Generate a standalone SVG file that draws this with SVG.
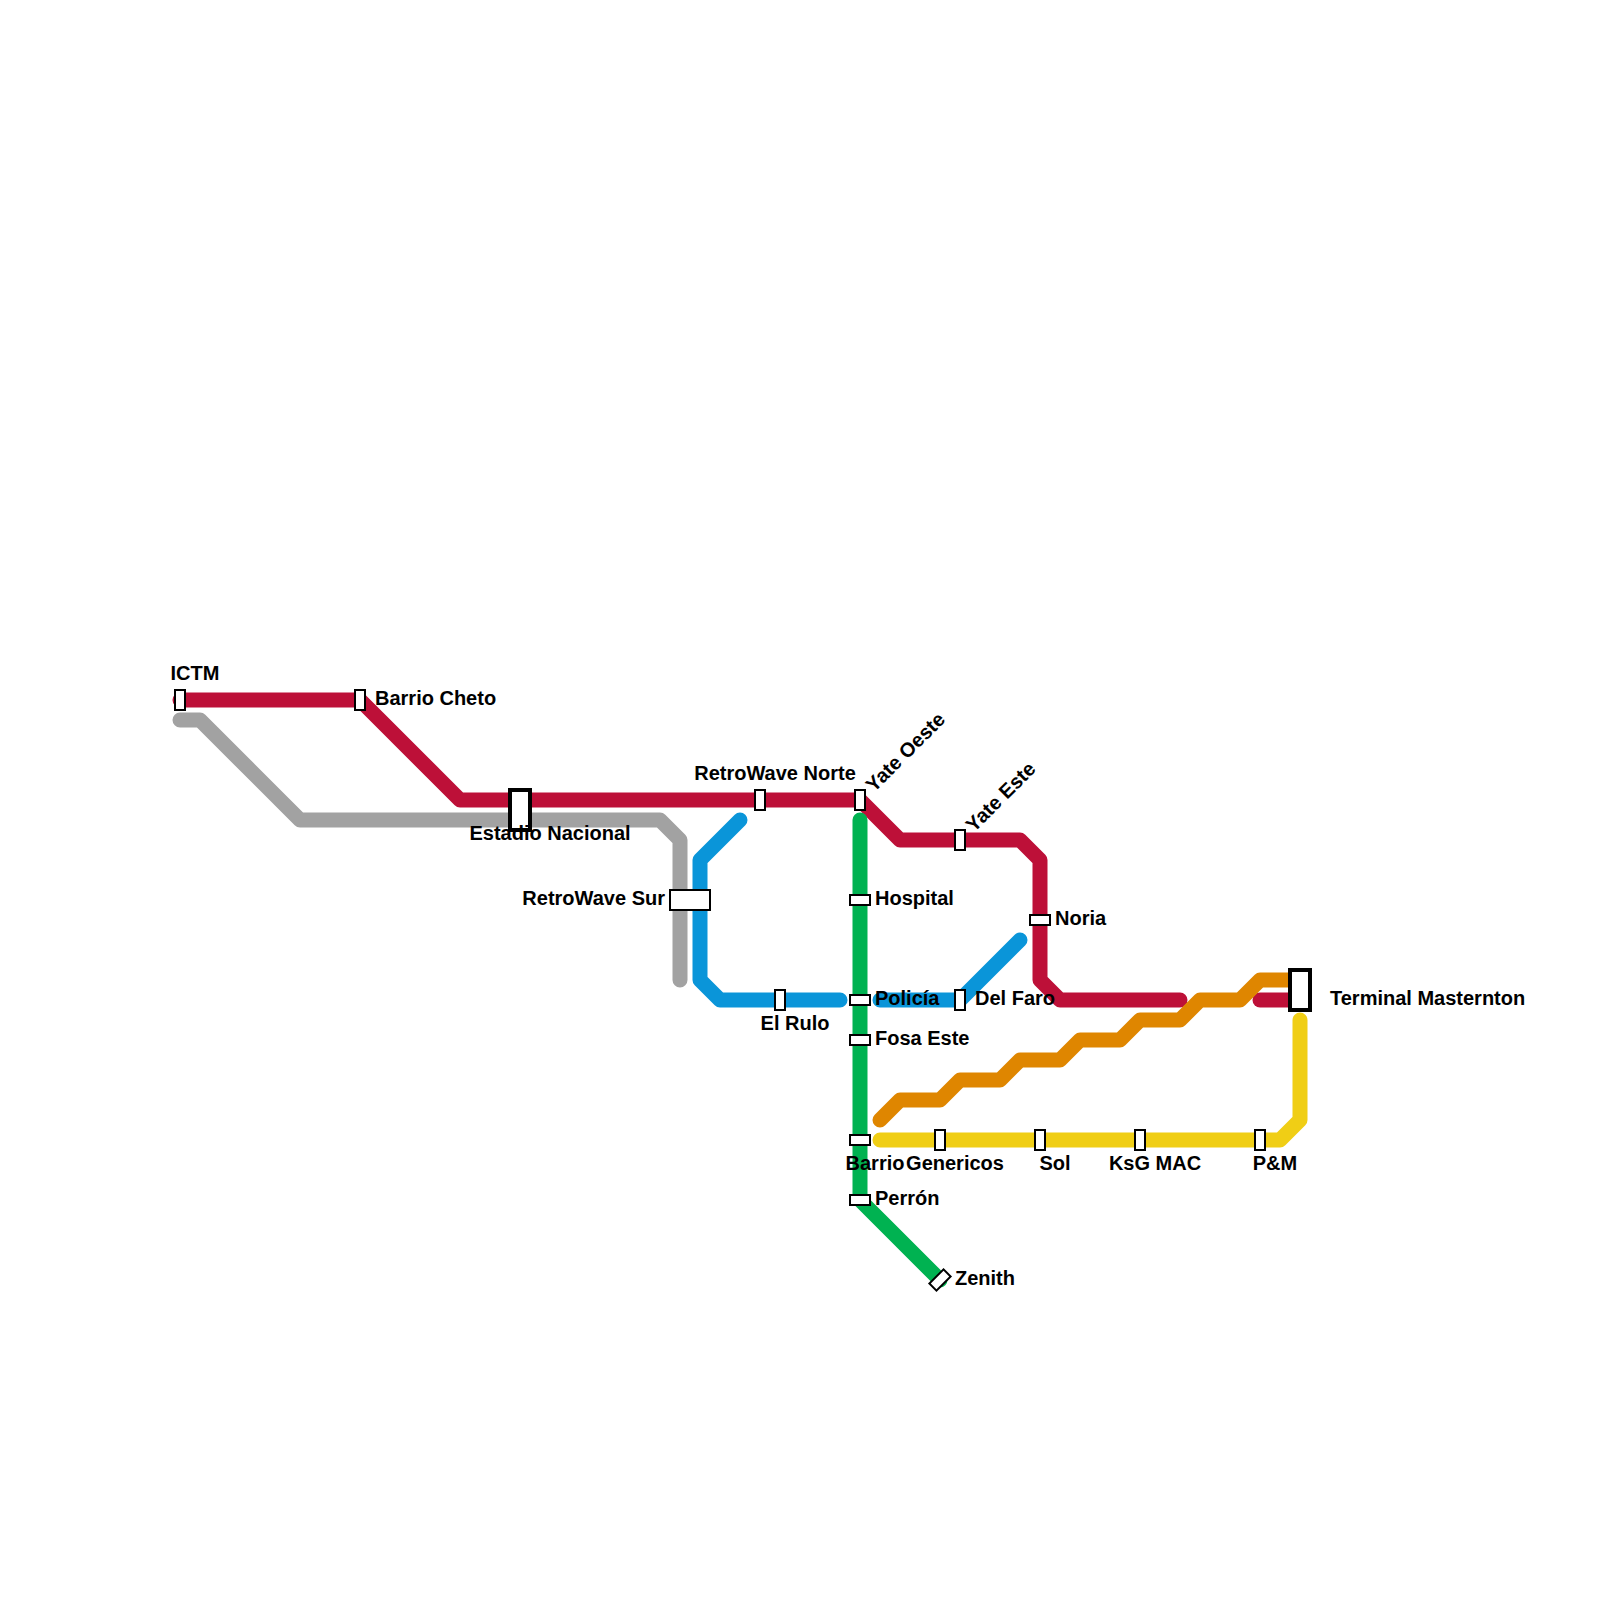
<svg xmlns="http://www.w3.org/2000/svg" width="1600" height="1600" viewBox="0 0 1600 1600">
<style>
.l{fill:none;stroke-width:15;stroke-linecap:round;stroke-linejoin:round}
.s{fill:#fff;stroke:#000;stroke-width:2}
.t{fill:#fff;stroke:#000;stroke-width:4}
text{font-family:"Liberation Sans",Arial,sans-serif;font-size:20px;font-weight:700;fill:#000}
.m{text-anchor:middle}
.e{text-anchor:end}
</style>
<rect width="1600" height="1600" fill="#fff"/>
<g id="connectors">
<path class="l" stroke="#bd1038" d="M180 700H360L460 800H860L900 840H1020L1040 860V980L1060 1000H1180"/>
<path class="l" stroke="#bd1038" d="M1260 1000H1300"/>
<path class="l" stroke="#a2a2a2" d="M180 720H200L300 820H660L680 840V980"/>
<path class="l" stroke="#0a95d9" d="M740 820L700 860V980L720 1000H840"/>
<path class="l" stroke="#0a95d9" d="M880 1000H960L1020 940"/>
<path class="l" stroke="#00b251" d="M860 820V1200L940 1280"/>
<path class="l" stroke="#df8600" d="M880 1120L900 1100H940L960 1080H1000L1020 1060H1060L1080 1040H1120L1140 1020H1180L1200 1000H1240L1260 980H1300"/>
<path class="l" stroke="#f0ce15" d="M880 1140H1280L1300 1120V1020"/>
</g>
<g id="st-ictm"><rect class="s" x="175" y="690" width="10" height="20"/><text class="m" x="195" y="680">ICTM</text></g>
<g id="st-barrio-cheto"><rect class="s" x="355" y="690" width="10" height="20"/><text x="375" y="705">Barrio Cheto</text></g>
<g id="st-estadio-nacional"><rect class="t" x="510" y="790" width="20" height="40"/><text class="m" x="550" y="840">Estadio Nacional</text></g>
<g id="st-retrowave-norte"><rect class="s" x="755" y="790" width="10" height="20"/><text class="m" x="775" y="780">RetroWave Norte</text></g>
<g id="st-yate-oeste"><rect class="s" x="855" y="790" width="10" height="20"/><text transform="translate(874 793) rotate(-45)">Yate Oeste</text></g>
<g id="st-yate-este"><rect class="s" x="955" y="830" width="10" height="20"/><text transform="translate(974 833) rotate(-45)">Yate Este</text></g>
<g id="st-noria"><rect class="s" x="1030" y="915" width="20" height="10"/><text x="1055" y="925">Noria</text></g>
<g id="st-retrowave-sur"><rect class="s" x="670" y="890" width="40" height="20"/><text class="e" x="665" y="905">RetroWave Sur</text></g>
<g id="st-hospital"><rect class="s" x="850" y="895" width="20" height="10"/><text x="875" y="905">Hospital</text></g>
<g id="st-policia"><rect class="s" x="850" y="995" width="20" height="10"/><text x="875" y="1005">Policía</text></g>
<g id="st-fosa-este"><rect class="s" x="850" y="1035" width="20" height="10"/><text x="875" y="1045">Fosa Este</text></g>
<g id="st-el-rulo"><rect class="s" x="775" y="990" width="10" height="20"/><text class="m" x="795" y="1030">El Rulo</text></g>
<g id="st-del-faro"><rect class="s" x="955" y="990" width="10" height="20"/><text x="975" y="1005">Del Faro</text></g>
<g id="st-barrio"><rect class="s" x="850" y="1135" width="20" height="10"/><text class="m" x="875" y="1170">Barrio</text></g>
<g id="st-genericos"><rect class="s" x="935" y="1130" width="10" height="20"/><text class="m" x="955" y="1170">Genericos</text></g>
<g id="st-sol"><rect class="s" x="1035" y="1130" width="10" height="20"/><text class="m" x="1055" y="1170">Sol</text></g>
<g id="st-ksg-mac"><rect class="s" x="1135" y="1130" width="10" height="20"/><text class="m" x="1155" y="1170">KsG MAC</text></g>
<g id="st-pm"><rect class="s" x="1255" y="1130" width="10" height="20"/><text class="m" x="1275" y="1170">P&amp;M</text></g>
<g id="st-perron"><rect class="s" x="850" y="1195" width="20" height="10"/><text x="875" y="1205">Perrón</text></g>
<g id="st-zenith"><rect class="s" x="930" y="1275" width="20" height="10" transform="rotate(-45 940 1280)"/><text x="955" y="1285">Zenith</text></g>
<g id="st-terminal-masternton"><rect class="t" x="1290" y="970" width="20" height="40"/><text x="1330" y="1005">Terminal Masternton</text></g>
</svg>
